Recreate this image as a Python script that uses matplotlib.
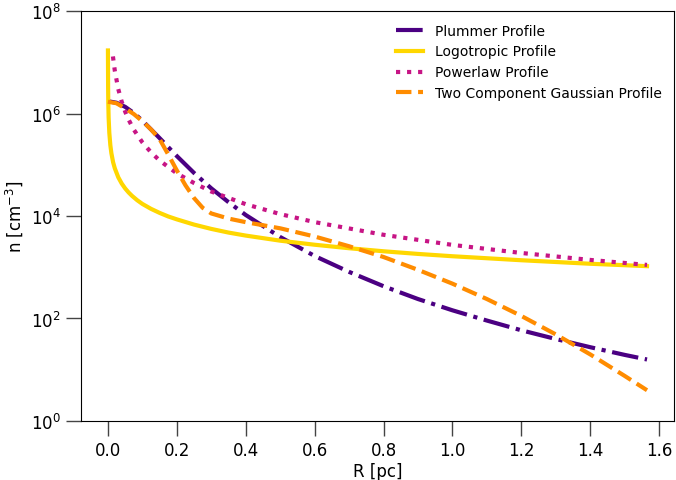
import numpy as np
import matplotlib
matplotlib.use("Agg")
import matplotlib.pyplot as plt

# Plummer profile (R [pc], n [cm^-3])
plummer_r = [0, 0.025, 0.05, 0.075, 0.1, 0.125, 0.15, 0.2, 0.25, 0.3, 0.35, 0.4,
             0.5, 0.6, 0.7, 0.8, 0.9, 1.0, 1.1, 1.2, 1.3, 1.4, 1.5, 1.565]
plummer_log_n = [6.24, 6.21, 6.13, 6.01, 5.86, 5.69, 5.52, 5.17, 4.84, 4.54, 4.27, 4.02,
                 3.59, 3.22, 2.91, 2.63, 2.38, 2.16, 1.96, 1.77, 1.60, 1.44, 1.29, 1.20]

# Logotropic profile
logo_r = [0, 0.0005, 0.001, 0.002, 0.004, 0.007, 0.01, 0.015, 0.02, 0.03, 0.04, 0.05,
          0.06, 0.07, 0.085, 0.1, 0.125, 0.15, 0.175, 0.2, 0.25, 0.3, 0.35, 0.4, 0.5,
          0.6, 0.7, 0.8, 0.9, 1.0, 1.2, 1.4, 1.565]
logo_n = [1.7e7, 3.3e6, 1.65e6, 8.3e5, 4.2e5, 2.4e5, 1.68e5, 1.12e5, 8.5e4, 5.7e4, 4.3e4, 3.45e4,
          2.88e4, 2.47e4, 2.03e4, 1.72e4, 1.38e4, 1.15e4, 9.8e3, 8.6e3, 6.8e3, 5.6e3, 4.75e3,
          4.15e3, 3.3e3, 2.75e3, 2.35e3, 2.05e3, 1.82e3, 1.64e3, 1.37e3, 1.17e3, 1.05e3]

# Powerlaw profile
power_r = [0.0145, 0.02, 0.03, 0.04, 0.05, 0.06, 0.075, 0.1, 0.125, 0.15, 0.2, 0.25, 0.3,
           0.4, 0.5, 0.6, 0.8, 1.0, 1.2, 1.4, 1.565]
power_n = [1.30e7, 6.8e6, 3.0e6, 1.7e6, 1.09e6, 7.6e5, 4.85e5, 2.73e5, 1.75e5, 1.21e5, 6.8e4,
           4.4e4, 3.0e4, 1.7e4, 1.09e4, 7.6e3, 4.3e3, 2.73e3, 1.9e3, 1.39e3, 1.11e3]

# Two component Gaussian profile
gauss_r = [0, 0.025, 0.05, 0.075, 0.1, 0.125, 0.15, 0.175, 0.2, 0.225, 0.25, 0.275, 0.3,
           0.35, 0.4, 0.5, 0.6, 0.7, 0.8, 0.9, 1.0, 1.1, 1.2, 1.3, 1.4, 1.5, 1.565]
gauss_log_n = [6.23, 6.20, 6.10, 5.99, 5.85, 5.69, 5.50, 5.20, 4.89, 4.60, 4.35, 4.16, 4.05,
               3.95, 3.88, 3.76, 3.60, 3.41, 3.20, 2.95, 2.68, 2.38, 2.05, 1.69, 1.30, 0.88, 0.60]

labels = ["Plummer Profile", "Logotropic Profile", "Powerlaw Profile",
          "Two Component Gaussian Profile"]
y_ticks = [1e0, 1e2, 1e4, 1e6, 1e8]

fig = plt.figure(figsize=(6.76, 4.81), dpi=100)
ax = fig.add_axes([0.1198, 0.1227, 0.8772, 0.8523])

ax.plot(plummer_r, 10 ** np.array(plummer_log_n), color="#4B0082", lw=3, ls="-.", label=labels[0])
ax.plot(logo_r, logo_n, color="#FFD700", lw=3, ls="-", label=labels[1])
ax.plot(power_r, power_n, color="#C71585", lw=3, ls=":", label=labels[2])
ax.plot(gauss_r, 10 ** np.array(gauss_log_n), color="#FF8C00", lw=3, ls="--", label=labels[3])

ax.set_yscale("log")
ax.set_ylim(1, 1e8)
ax.set_yticks(y_ticks)
ax.yaxis.set_minor_locator(matplotlib.ticker.NullLocator())
ax.set_xticks([0.0, 0.2, 0.4, 0.6, 0.8, 1.0, 1.2, 1.4, 1.6])
ax.tick_params(axis="both", which="major", direction="out", length=11, width=1,
               labelsize=12, color="#444444")
ax.set_xlabel("R [pc]", fontsize=12, labelpad=2)
ax.set_ylabel(r"n [cm$^{-3}$]", fontsize=12)
ax.legend(loc="upper right", frameon=False, fontsize=10)

fig.savefig("out.png", dpi=100)
